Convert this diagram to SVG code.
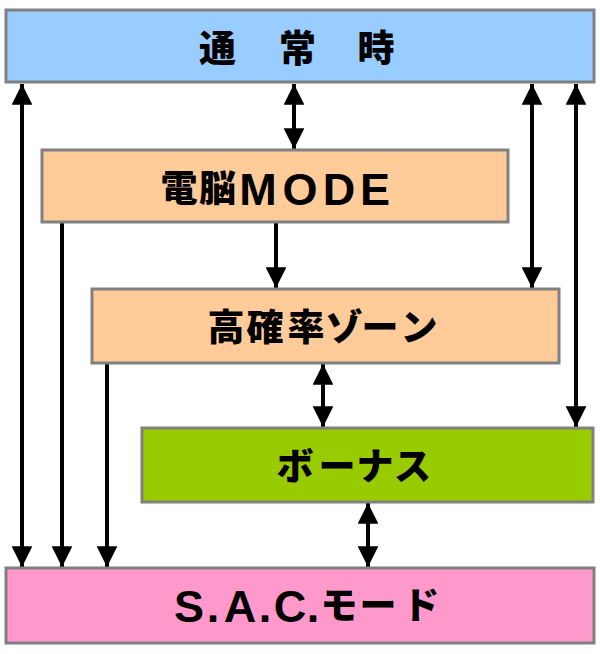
<svg xmlns="http://www.w3.org/2000/svg" width="600" height="654" viewBox="0 0 600 654">
<defs>
<style>
.box{stroke:#808080;stroke-width:3}
.lbl{font-family:"Noto Sans CJK JP","Liberation Sans",sans-serif;font-weight:900;font-size:37px;fill:#000;text-anchor:middle}
.lat{font-family:"Liberation Sans","Noto Sans CJK JP",sans-serif;font-weight:bold;font-size:45px}
.con{stroke:#000;stroke-width:4;fill:none}
</style>
<marker id="ah" viewBox="0 0 10 10" refX="10" refY="5" markerWidth="5.2" markerHeight="5.2" markerUnits="strokeWidth" orient="auto-start-reverse">
<path d="M0,0 L10,5 L0,10 z" fill="#000"/>
</marker>
</defs>
<rect width="600" height="654" fill="#fff"/>
<g id="connectors">
<line class="con" x1="22" y1="84" x2="22" y2="567" marker-start="url(#ah)" marker-end="url(#ah)"/>
<line class="con" x1="294" y1="84" x2="294" y2="149" marker-start="url(#ah)" marker-end="url(#ah)"/>
<line class="con" x1="532" y1="84" x2="532" y2="288" marker-start="url(#ah)" marker-end="url(#ah)"/>
<line class="con" x1="576" y1="84" x2="576" y2="427" marker-start="url(#ah)" marker-end="url(#ah)"/>
<line class="con" x1="62" y1="223" x2="62" y2="567" marker-end="url(#ah)"/>
<line class="con" x1="276" y1="223" x2="276" y2="288" marker-end="url(#ah)"/>
<line class="con" x1="107" y1="364" x2="107" y2="567" marker-end="url(#ah)"/>
<line class="con" x1="323" y1="364" x2="323" y2="427" marker-start="url(#ah)" marker-end="url(#ah)"/>
<line class="con" x1="368" y1="503" x2="368" y2="567" marker-start="url(#ah)" marker-end="url(#ah)"/>
</g>
<g id="normal">
<rect class="box" x="6" y="10" width="588" height="72" fill="#99CCFF"/>
<text class="lbl" x="217.5 297.5 376" y="62">通常時</text>
</g>
<g id="denno">
<rect class="box" x="42" y="150" width="466" height="72" fill="#FFCC99"/>
<text class="lbl" x="179 217.5" y="202">電脳<tspan class="lat" x="258 300 339 375" y="205">MODE</tspan></text>
</g>
<g id="kakuritsu">
<rect class="box" x="92" y="289" width="467" height="74" fill="#FFCC99"/>
<text class="lbl" x="226 265 306 344 380 419" y="341">高確率ゾーン</text>
</g>
<g id="bonus">
<rect class="box" x="142" y="428" width="451" height="74" fill="#99CC00"/>
<text class="lbl" x="295 337 375 412.5" y="480">ボーナス</text>
</g>
<g id="sac">
<rect class="box" x="6" y="568" width="588" height="75" fill="#FF99CC"/>
<text class="lbl" x="189" y="622"><tspan class="lat" x="189 213 240 265 290 313" y="622">S.A.C.</tspan><tspan x="339 378 421" y="619">モード</tspan></text>
</g>
</svg>
